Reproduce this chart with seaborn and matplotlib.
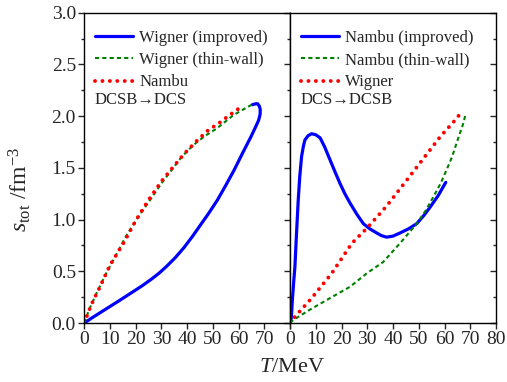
import numpy as np
import pandas as pd
import matplotlib
matplotlib.use("Agg")
import matplotlib.pyplot as plt
import seaborn as sns
from matplotlib.ticker import MultipleLocator

# ---------------- data ----------------
# Left panel: DCSB -> DCS
wig_imp_T = [0, 3, 6.5, 10, 12.9, 16, 19.1, 22.5, 25.9, 29, 32.1, 35.5, 38.8, 42, 45.1, 48.5,
             51.8, 55, 58.3, 61.5, 64.8, 66.7, 67.8, 68.4, 68.4, 68.0, 67.4, 66.8, 66.0, 65.3]
wig_imp_s = [0, 0.05, 0.105, 0.16, 0.205, 0.255, 0.305, 0.36, 0.42, 0.48, 0.55, 0.635, 0.73, 0.835, 0.945, 1.065,
             1.19, 1.33, 1.48, 1.64, 1.80, 1.90, 1.96, 2.02, 2.07, 2.10, 2.12, 2.12, 2.115, 2.11]

wig_thin_T = [0, 1.8, 4.8, 8.5, 12.6, 16, 19.1, 22.5, 25.6, 30, 34.0, 38, 42.4, 47, 51.5, 55, 58.0, 61.5, 65.1]
wig_thin_s = [0, 0.125, 0.29, 0.48, 0.67, 0.83, 0.95, 1.08, 1.19, 1.35, 1.48, 1.61, 1.72, 1.81, 1.88, 1.95, 2.01, 2.06, 2.11]

nam_left_T = [0, 1.5, 3.5, 6.1, 10, 15.2, 20, 25, 30, 34.6, 39, 43.7, 48, 52.8, 56.5, 59.9]
nam_left_s = [0, 0.10, 0.22, 0.35, 0.56, 0.77, 0.99, 1.19, 1.37, 1.51, 1.64, 1.76, 1.86, 1.94, 2.01, 2.07]

# Right panel: DCS -> DCSB
nam_imp_T = [0, 0.5, 1.0, 1.5, 1.9, 2.5, 3.2, 3.8, 4.5, 5.2, 5.8, 7.0, 8.4, 10, 11.7, 13.5, 15.5,
             17.5, 19.4, 21.3, 23.3, 26, 28.5, 31, 33.7, 35.5, 37.5, 40, 42.7, 46, 49.2, 52, 54.4, 57.5, 60.5]
nam_imp_s = [0, 0.05, 0.25, 0.42, 0.54, 0.85, 1.19, 1.42, 1.61, 1.71, 1.77, 1.81, 1.83, 1.82, 1.79, 1.70, 1.58,
             1.46, 1.35, 1.25, 1.16, 1.05, 0.96, 0.91, 0.87, 0.845, 0.83, 0.84, 0.87, 0.91, 0.96, 1.04, 1.12, 1.23, 1.36]

nam_thin_T = [0, 1.3, 7.8, 15.5, 23.3, 29.8, 36.2, 42.7, 49.2, 52.5, 55.7, 58.5, 60.8, 63.0, 64.7, 66.2, 67.3, 67.9, 68.2]
nam_thin_s = [0, 0.03, 0.13, 0.24, 0.35, 0.48, 0.59, 0.77, 0.96, 1.08, 1.22, 1.35, 1.48, 1.61, 1.74, 1.85, 1.93, 1.99, 2.03]

wig_right_T = [0, 1.9, 8.4, 16.2, 24.0, 30.0, 37.5, 45.3, 51.8, 58.3, 64.1, 66.3]
wig_right_s = [0, 0.06, 0.24, 0.48, 0.77, 0.92, 1.13, 1.38, 1.59, 1.80, 1.96, 2.03]

x_ticks = [0, 10, 20, 30, 40, 50, 60, 70, 80]
y_ticks = [0.0, 0.5, 1.0, 1.5, 2.0, 2.5, 3.0]

# ---------------- style ----------------
sns.set_theme(style="ticks")
plt.rcParams['font.family'] = ['Liberation Serif', 'DejaVu Serif']
plt.rcParams['mathtext.fontset'] = 'custom'
plt.rcParams['mathtext.rm'] = 'Liberation Serif'
plt.rcParams['mathtext.it'] = 'Liberation Serif:italic'
plt.rcParams['mathtext.bf'] = 'Liberation Serif:bold'
plt.rcParams['axes.linewidth'] = 1.0

fig = plt.figure(figsize=(5.07, 3.82), dpi=100)
ax1 = fig.add_axes([84.3/507, 1-323/382, (290-84.3)/507, (323-12.7)/382])
ax2 = fig.add_axes([290/507, 1-323/382, (496-290)/507, (323-12.7)/382])

solid_kw = dict(color='#0000FF', linewidth=2.3, linestyle='-')
dash_kw = dict(color='#008000', linewidth=1.5, linestyle=(0, (2.0, 1.5)))
dot_kw = dict(color='#FF0000', linewidth=2.8, linestyle=(0, (0.01, 1.9)),
              dash_capstyle='round', solid_capstyle='round')

def draw(ax, T, s, label, kw):
    df = pd.DataFrame({'T': T, 's': s})
    sns.lineplot(data=df, x='T', y='s', ax=ax, sort=False, estimator=None,
                 label=label, **kw)

draw(ax1, wig_imp_T, wig_imp_s, 'Wigner (improved)', solid_kw)
draw(ax1, wig_thin_T, wig_thin_s, 'Wigner (thin-wall)', dash_kw)
draw(ax1, nam_left_T, nam_left_s, 'Nambu', dot_kw)

draw(ax2, nam_imp_T, nam_imp_s, 'Nambu (improved)', solid_kw)
draw(ax2, nam_thin_T, nam_thin_s, 'Nambu (thin-wall)', dash_kw)
draw(ax2, wig_right_T, wig_right_s, 'Wigner', dot_kw)

for ax in (ax1, ax2):
    ax.set_xlim(0, 80)
    ax.set_ylim(0, 3.0)
    ax.set_xticks(x_ticks)
    ax.set_yticks(y_ticks)
    ax.yaxis.set_minor_locator(MultipleLocator(0.25))
    ax.set_xlabel('')
    ax.set_ylabel('')
    for sp in ax.spines.values():
        sp.set_visible(True)
        sp.set_linewidth(1.0)
        sp.set_color('black')
    ax.tick_params(axis='x', which='major', direction='out', length=4, width=1,
                   labelsize=14, pad=2, top=False)
    ax.tick_params(axis='x', which='minor', bottom=False, top=False)
    ax.legend(loc='upper left', frameon=False, fontsize=12,
              handlelength=2.3, handletextpad=0.36, labelspacing=0.38,
              borderaxespad=0.0, borderpad=0.0, bbox_to_anchor=(0.052, 0.945))

ax1.set_xticklabels(['0', '10', '20', '30', '40', '50', '60', '70', ''])
ax1.tick_params(axis='y', which='major', left=True, right=True, direction='out',
                length=4, width=1, labelsize=14, pad=2)
ax1.tick_params(axis='y', which='minor', left=True, right=True, direction='out',
                length=2.5, width=1)
# right side ticks of left panel point inward
for t in ax1.yaxis.get_major_ticks() + ax1.yaxis.get_minor_ticks():
    t.tick2line.set_marker(matplotlib.lines.TICKLEFT)
ax1.set_yticklabels(['0.0', '0.5', '1.0', '1.5', '2.0', '2.5', '3.0'])

ax2.tick_params(axis='y', which='both', left=False, right=True, labelleft=False,
                direction='in', width=1)
ax2.tick_params(axis='y', which='major', length=4)
ax2.tick_params(axis='y', which='minor', length=2.5)

ax1.text(0.052, 0.718, 'DCSB\u2192DCS', transform=ax1.transAxes, fontsize=12,
         ha='left', va='center')
ax2.text(0.052, 0.718, 'DCS\u2192DCSB', transform=ax2.transAxes, fontsize=12,
         ha='left', va='center')

ax1.set_ylabel(r'$s_{\rm tot}$ /fm$^{-3}$', fontsize=17)
ax1.yaxis.set_label_coords(-0.25, 0.43)
fig.text(292/507, 1-368/382, r'$T$/MeV', fontsize=16, ha='center', va='center')

fig.savefig('out.png', dpi=100)
